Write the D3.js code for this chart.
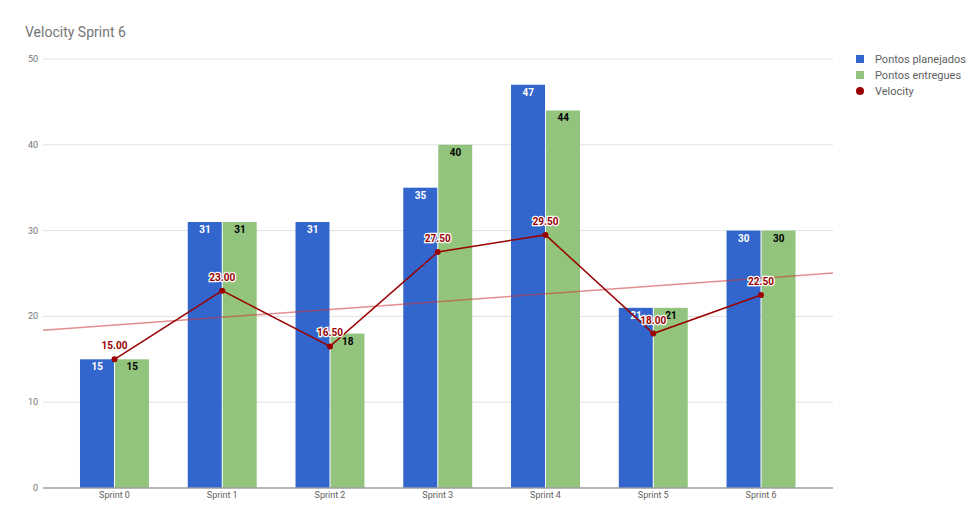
<!DOCTYPE html>
<html><head><meta charset="utf-8">
<script src="https://cdn.jsdelivr.net/npm/d3@7"></script>
<style>
body{margin:0;background:#fff;}
svg{font-family:Roboto,"Noto Sans",Arial,sans-serif;}
</style></head>
<body><svg id="c" width="980" height="525"></svg>
<script>
const categories = ["Sprint 0","Sprint 1","Sprint 2","Sprint 3","Sprint 4","Sprint 5","Sprint 6"];
const planejados = [15,31,31,35,47,21,30];
const entregues  = [15,31,18,40,44,21,30];
const velocity   = [15,23,16.5,27.5,29.5,18,22.5];
const yTicks = [0,10,20,30,40,50];
const seriesNames = ["Pontos planejados","Pontos entregues","Velocity"];
const colors = {plan:"#3366cc", ent:"#93c47d", vel:"#990000"};

(function(){
const svg = d3.select("#c");
const pL = 43, pR = 833, pT = 59, pB = 488;

const y = d3.scaleLinear().domain([0,50]).range([pB, pT]);
const x = d3.scaleBand().domain(categories).range([60.6, 814.9]).paddingInner(0.36).paddingOuter(0.18);
const xi = d3.scaleLinear().domain([0,6]).range([x(categories[0])+x.bandwidth()/2, x(categories[6])+x.bandwidth()/2]);
const bw = x.bandwidth()/2;

svg.append("text").attr("x",25).attr("y",37).attr("font-size",14).attr("fill","#757575").text("Velocity Sprint 6");

// gridlines
svg.append("g").selectAll("line").data(yTicks.filter(d=>d>0)).join("line")
  .attr("x1",pL).attr("x2",pR).attr("y1",d=>y(d)).attr("y2",d=>y(d))
  .attr("stroke","#e0e0e0").attr("stroke-width",1);
svg.append("g").selectAll("text").data(yTicks).join("text")
  .attr("x",38).attr("y",d=>y(d)+3).attr("text-anchor","end")
  .attr("font-size",9).attr("fill","#757575").text(d=>d);

// bars
const g = svg.append("g");
g.selectAll("rect.p").data(planejados).join("rect").attr("class","p")
  .attr("x",(d,i)=>x(categories[i])).attr("width",bw-0.5)
  .attr("y",d=>y(d)).attr("height",d=>y(0)-y(d)).attr("fill",colors.plan);
g.selectAll("rect.e").data(entregues).join("rect").attr("class","e")
  .attr("x",(d,i)=>x(categories[i])+bw+0.5).attr("width",bw-0.5)
  .attr("y",d=>y(d)).attr("height",d=>y(0)-y(d)).attr("fill",colors.ent);

// baseline
svg.append("line").attr("x1",pL).attr("x2",pR).attr("y1",y(0)).attr("y2",y(0))
  .attr("stroke","#9e9e9e").attr("stroke-width",1.5);

// x labels
svg.append("g").selectAll("text").data(categories).join("text")
  .attr("x",d=>x(d)+x.bandwidth()/2).attr("y",y(0)+10).attr("text-anchor","middle")
  .attr("font-size",9).attr("fill","#616161").text(d=>d);

// bar labels
g.selectAll("text.pl").data(planejados).join("text").attr("class","pl")
  .attr("x",(d,i)=>x(categories[i])+bw/2).attr("y",d=>y(d)+11).attr("text-anchor","middle")
  .attr("font-size",10).attr("font-weight","bold").attr("fill","#fff").text(d=>d);
g.selectAll("text.el").data(entregues).join("text").attr("class","el")
  .attr("x",(d,i)=>x(categories[i])+bw*1.5+0.5).attr("y",d=>y(d)+11).attr("text-anchor","middle")
  .attr("font-size",10).attr("font-weight","bold").attr("fill","#000").text(d=>d);

// trendline (least squares)
const mx = d3.mean(velocity,(d,i)=>i), my = d3.mean(velocity);
const slope = d3.sum(velocity,(d,i)=>(i-mx)*(d-my))/d3.sum(velocity,(d,i)=>(i-mx)*(i-mx));
const icpt = my - slope*mx;
const i0 = xi.invert(pL), i1 = xi.invert(pR);
svg.append("line").attr("x1",pL).attr("x2",pR)
  .attr("y1",y(icpt+slope*i0)).attr("y2",y(icpt+slope*i1))
  .attr("stroke","#cc3333").attr("stroke-opacity",0.55).attr("stroke-width",1.5);

// velocity line
svg.append("path").datum(velocity)
  .attr("d", d3.line().x((d,i)=>xi(i)).y(d=>y(d)))
  .attr("fill","none").attr("stroke",colors.vel).attr("stroke-width",1.5);
svg.append("g").selectAll("circle").data(velocity).join("circle")
  .attr("cx",(d,i)=>xi(i)).attr("cy",d=>y(d)).attr("r",3).attr("fill",colors.vel);
svg.append("g").selectAll("text").data(velocity).join("text")
  .attr("x",(d,i)=>xi(i)).attr("y",d=>y(d)-10).attr("text-anchor","middle")
  .attr("font-size",10).attr("font-weight","bold").attr("fill",colors.vel)
  .attr("stroke","#fff").attr("stroke-width",2.5).attr("paint-order","stroke")
  .text(d=>d.toFixed(2));

// legend
const lg = svg.append("g");
const ly = [59,75,91];
lg.append("rect").attr("x",856).attr("y",ly[0]-4).attr("width",8).attr("height",8).attr("fill",colors.plan);
lg.append("rect").attr("x",856).attr("y",ly[1]-4).attr("width",8).attr("height",8).attr("fill",colors.ent);
lg.append("circle").attr("cx",860).attr("cy",ly[2]).attr("r",4).attr("fill",colors.vel);
lg.selectAll("text").data(seriesNames).join("text")
  .attr("x",875).attr("y",(d,i)=>ly[i]+4).attr("font-size",11).attr("fill","#616161").text(d=>d);
})();
</script></body></html>
